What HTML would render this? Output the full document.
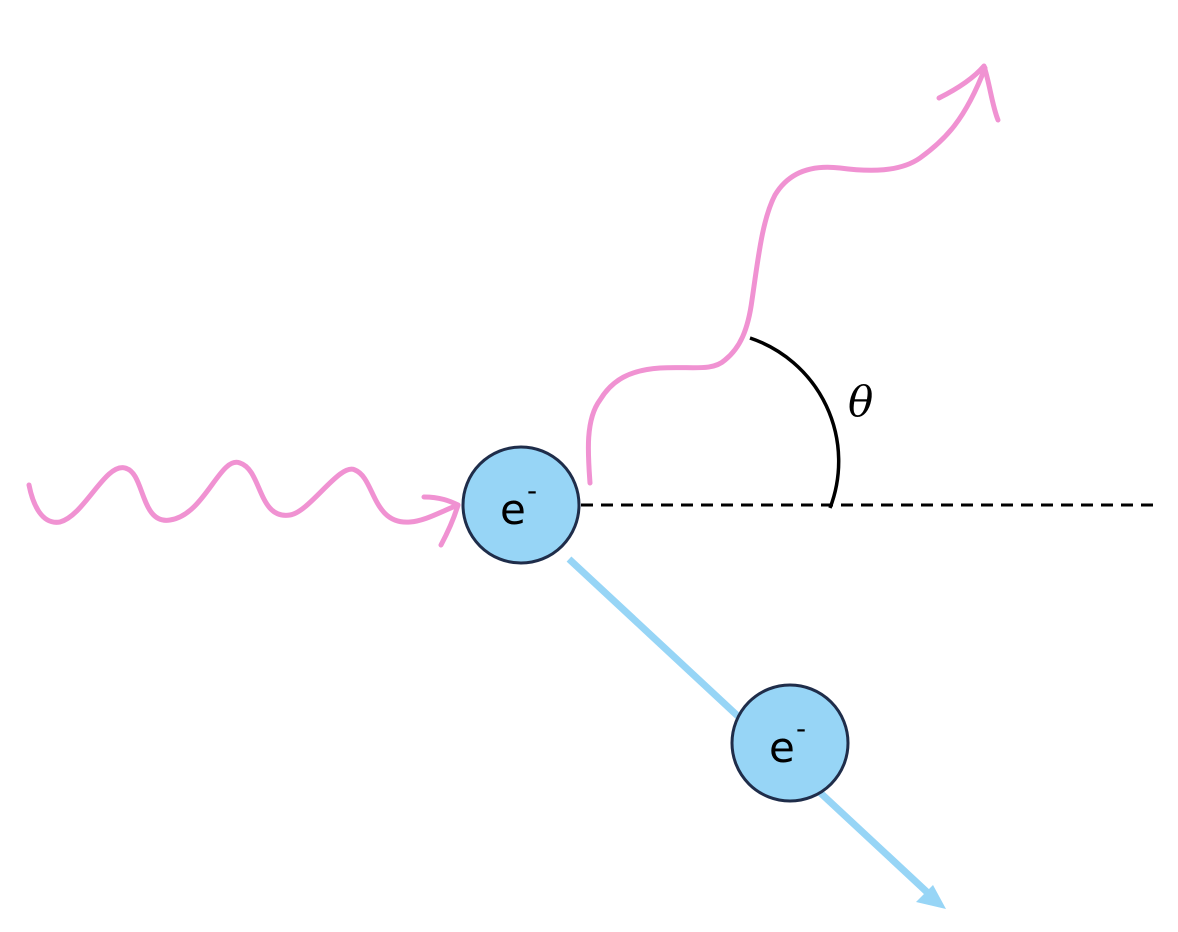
<!DOCTYPE html>
<html><head><meta charset="utf-8"><style>
html,body{margin:0;padding:0;background:#fff;}
svg{display:block;}
</style></head><body>
<svg width="1178" height="932" viewBox="0 0 1178 932">
  <path d="M29,485 C33,505 42,525 60,522 C85,515 105,463 125,468 C145,472 140,525 170,520 C205,515 220,455 240,463 C262,470 258,520 290,515 C310,512 340,462 355,470 C375,478 372,525 410,522 C425,521 440,512 458,505" fill="none" stroke="#f092d2" stroke-width="5" stroke-linecap="round"/>
  <path d="M424,497 C440,497 450,501 458,505 M441,545 C450,528 455,515 458,505" fill="none" stroke="#f092d2" stroke-width="5" stroke-linecap="round"/>
  <path d="M590,483 C588,455 585,420 600,400 C612,380 630,370 660,368 C690,366 712,372 725,360 C740,348 748,330 752,300 C758,260 762,220 775,195 C790,170 815,165 840,168 C870,172 900,172 920,158 C945,140 965,120 985,68" fill="none" stroke="#f092d2" stroke-width="5" stroke-linecap="round"/>
  <path d="M939,98 C955,90 972,80 984,66 M984,66 C990,85 992,105 998,120" fill="none" stroke="#f092d2" stroke-width="5" stroke-linecap="round"/>
  <line x1="581" y1="505" x2="1158" y2="505" stroke="#000" stroke-width="3" stroke-dasharray="12,8"/>
  <path d="M750,338 A130 130 0 0 1 830,508" fill="none" stroke="#000" stroke-width="3.5"/>
  <text x="848" y="416" font-family="'DejaVu Serif','Liberation Serif',serif" font-style="italic" font-size="42">θ</text>
  <line x1="569" y1="559" x2="928" y2="893" stroke="#97d5f6" stroke-width="7"/>
  <polygon points="946,909 916,902 933,885" fill="#97d5f6"/>
  <g>
    <circle cx="521" cy="505" r="58" fill="#97d5f6" stroke="#1f2d4a" stroke-width="3"/>
    <text x="500" y="524" font-family="'DejaVu Sans','Liberation Sans',sans-serif" font-size="42">e</text>
    <text x="527" y="500" font-family="'DejaVu Sans','Liberation Sans',sans-serif" font-size="28">-</text>
  </g>
  <g>
    <circle cx="790" cy="743" r="58" fill="#97d5f6" stroke="#1f2d4a" stroke-width="3"/>
    <text x="769" y="762" font-family="'DejaVu Sans','Liberation Sans',sans-serif" font-size="42">e</text>
    <text x="796" y="738" font-family="'DejaVu Sans','Liberation Sans',sans-serif" font-size="28">-</text>
  </g>
</svg>
</body></html>
